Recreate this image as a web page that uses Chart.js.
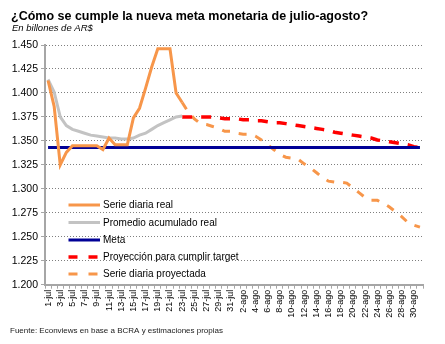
<!DOCTYPE html>
<html>
<head>
<meta charset="utf-8">
<script src="https://cdn.jsdelivr.net/npm/chart.js@4/dist/chart.umd.min.js"></script>
<style>
  html, body { margin: 0; padding: 0; background: #fff; }
  #wrap { width: 445px; height: 344px; }
</style>
</head>
<body>
<div id="wrap"><canvas id="c" width="445" height="344"></canvas></div>
<script>
// Categories: every day of July and August
const months = ['jul', 'ago'];
const daysPerMonth = [31, 31];
const categories = [];
months.forEach((m, k) => {
  for (let d = 1; d <= daysPerMonth[k]; d++) categories.push(d + '-' + m);
});

// Y axis ticks (billones de AR$)
const yTicks = [1.200, 1.225, 1.250, 1.275, 1.300, 1.325, 1.350, 1.375, 1.400, 1.425, 1.450];

// Serie diaria real (1-jul .. 23-jul)
const serieReal = [1.413, 1.386, 1.325, 1.338, 1.345, 1.345, 1.345, 1.345, 1.345, 1.341,
  1.353, 1.346, 1.346, 1.346, 1.374, 1.384, 1.405, 1.427, 1.446, 1.446,
  1.446, 1.400, 1.390];

// Promedio acumulado real (1-jul .. 23-jul)
const promedioReal = [1.414, 1.401, 1.375, 1.366, 1.362, 1.360, 1.358, 1.356, 1.355, 1.354,
  1.353, 1.353, 1.352, 1.352, 1.353, 1.356, 1.358, 1.362, 1.366, 1.369,
  1.372, 1.375, 1.376];

// Meta de base monetaria
const metaValor = 1.343;

// Proyección para cumplir target (23-jul .. 31-ago)
const proyTarget = [1.375, 1.375, 1.375, 1.375, 1.375, 1.375, 1.374, 1.373, 1.373, 1.373,
  1.372, 1.372, 1.371, 1.371, 1.370, 1.369, 1.369, 1.368, 1.367, 1.366,
  1.365, 1.364, 1.363, 1.362, 1.361, 1.359, 1.358, 1.357, 1.356, 1.355,
  1.354, 1.353, 1.351, 1.350, 1.349, 1.348, 1.347, 1.346, 1.344, 1.343];

// Serie diaria proyectada (23-jul .. 31-ago)
const serieProyectada = [1.390, 1.380, 1.373, 1.368, 1.367, 1.365, 1.363, 1.360, 1.360, 1.358,
  1.357, 1.357, 1.355, 1.351, 1.346, 1.341, 1.336, 1.333, 1.332, 1.331,
  1.326, 1.322, 1.317, 1.312, 1.308, 1.307, 1.307, 1.306, 1.301, 1.296,
  1.291, 1.288, 1.288, 1.285, 1.281, 1.276, 1.271, 1.265, 1.262, 1.260];

const startProy = categories.length - proyTarget.length;

function pad(arr, start) {
  const out = new Array(categories.length).fill(null);
  arr.forEach((v, i) => { out[start + i] = v; });
  return out;
}

const FONT = "'Liberation Sans', Arial, sans-serif";

const datasets = [
  { label: 'Serie diaria real', data: pad(serieReal, 0), borderColor: '#F7964A', borderWidth: 3 },
  { label: 'Promedio acumulado real', data: pad(promedioReal, 0), borderColor: '#C3C3C3', borderWidth: 3 },
  { label: 'Meta', data: categories.map(() => metaValor), borderColor: '#000096', borderWidth: 3 },
  { label: 'Proyección para cumplir target', data: pad(proyTarget, startProy), borderColor: '#FF0000', borderWidth: 3.5, borderDash: [10, 9] },
  { label: 'Serie diaria proyectada', data: pad(serieProyectada, startProy), borderColor: '#F7964A', borderWidth: 3, borderDash: [8, 9] }
];
datasets.forEach(d => {
  d.pointRadius = 0;
  d.pointHoverRadius = 0;
  d.tension = 0;
  d.fill = false;
  d.spanGaps = false;
});

// Title, subtitle, source note and in-plot legend
const decorations = {
  id: 'decorations',
  afterDraw(chart) {
    const ctx = chart.ctx;
    ctx.save();
    ctx.fillStyle = '#000';
    ctx.textBaseline = 'alphabetic';
    ctx.textAlign = 'left';
    ctx.font = "bold 12.5px " + FONT;
    ctx.fillText('¿Cómo se cumple la nueva meta monetaria de julio-agosto?', 11, 19.5);
    ctx.font = "italic 9.5px " + FONT;
    ctx.fillText('En billones de AR$', 12, 30.5);
    ctx.font = "8px " + FONT;
    ctx.fillStyle = '#1a1a1a';
    ctx.fillText('Fuente: Econviews en base a BCRA y estimaciones propias', 10, 333);

    // legend
    const rows = [205, 222.5, 240, 257, 274];
    ctx.font = "10px " + FONT;
    ctx.textBaseline = 'middle';
    chart.data.datasets.forEach((ds, i) => {
      const y = rows[i];
      ctx.beginPath();
      ctx.strokeStyle = ds.borderColor;
      ctx.lineWidth = ds.borderWidth;
      ctx.setLineDash(ds.borderDash ? [9, 11] : []);
      ctx.moveTo(68.5, y);
      ctx.lineTo(100, y);
      ctx.stroke();
      ctx.setLineDash([]);
      ctx.fillStyle = '#000';
      ctx.fillText(ds.label, 103, y + 0.5);
    });
    ctx.restore();
  }
};

new Chart(document.getElementById('c'), {
  type: 'line',
  data: { labels: categories, datasets },
  options: {
    responsive: false,
    animation: false,
    devicePixelRatio: 1,
    layout: { padding: { left: 0, right: 22, top: 45, bottom: 0 } },
    plugins: { legend: { display: false }, tooltip: { enabled: false }, title: { display: false } },
    scales: {
      x: {
        offset: true,
        afterFit(scale) { scale.height = 59.3; },
        grid: { drawOnChartArea: false, drawTicks: true, tickLength: 4, color: '#A6A6A6', offset: true, lineWidth: 1 },
        border: { color: '#A6A6A6', width: 2 },
        ticks: {
          autoSkip: false, maxRotation: 90, minRotation: 90, padding: 1,
          color: '#000', font: { family: FONT, size: 9 },
          callback(val, idx) { return idx % 2 === 0 ? this.getLabelForValue(val) : ''; }
        }
      },
      y: {
        min: yTicks[0],
        max: yTicks[yTicks.length - 1],
        afterFit(scale) { scale.width = 45; },
        afterBuildTicks(scale) { scale.ticks = yTicks.map(v => ({ value: v })); },
        grid: {
          color: '#7F7F7F', lineWidth: 1,
          drawTicks: true, tickLength: 4, tickColor: '#A6A6A6', tickBorderDash: []
        },
        border: { color: '#A6A6A6', width: 2, dash: [1, 2] },
        ticks: {
          padding: 3, color: '#000', font: { family: FONT, size: 10.5 },
          callback(v) { return Number(v).toFixed(3); }
        }
      }
    }
  },
  plugins: [decorations]
});
</script>
</body>
</html>
